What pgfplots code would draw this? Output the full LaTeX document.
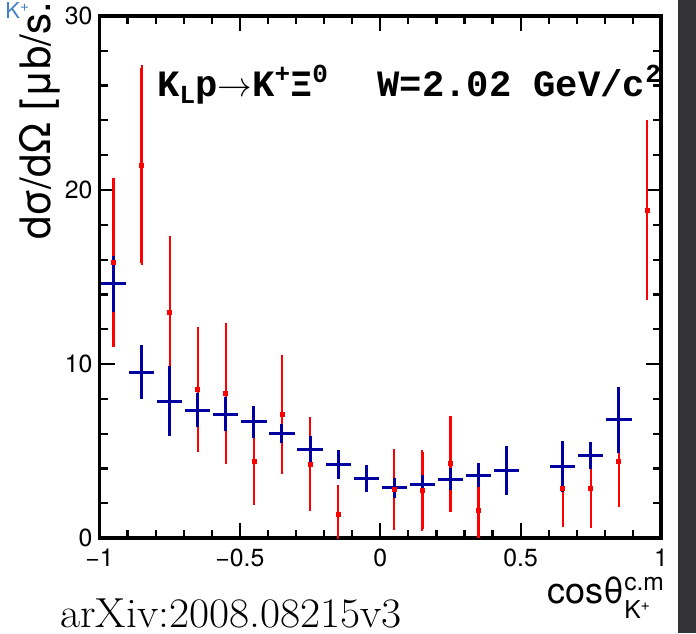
\documentclass[border=0pt]{standalone}
\usepackage{pgfplots}
\pgfplotsset{compat=1.18}
\usepackage{pgfplotstable}
\usepackage{fontspec}
\setmainfont{TeX Gyre Heros}
\newfontfamily\cour{Liberation Mono}
\definecolor{rootblue}{RGB}{0,0,160}
\definecolor{rootred}{RGB}{255,0,0}
\definecolor{stripgray}{RGB}{51,51,53}
\definecolor{fragblue}{RGB}{70,130,195}

\pgfplotstableread{
x y e
-0.95 15.85 4.70
-0.85 21.43 5.60
-0.75 12.96 4.27
-0.65 8.54 3.46
-0.55 8.29 3.90
-0.45 4.40 2.34
-0.35 7.10 3.27
-0.25 4.25 2.55
-0.15 1.37 1.50
0.05 2.80 2.18
0.15 2.73 2.19
0.25 4.27 2.60
0.35 1.58 1.42
0.65 2.86 2.07
0.75 2.87 2.15
0.85 4.39 2.43
0.95 18.83 5.02
}\reddata

\pgfplotstableread{
x y ex ey
-0.95 14.60 0.045 1.60
-0.85 9.54 0.045 1.57
-0.75 7.87 0.045 2.00
-0.65 7.35 0.045 0.96
-0.55 7.12 0.045 0.96
-0.45 6.67 0.045 0.92
-0.35 6.02 0.045 0.56
-0.25 5.08 0.045 0.80
-0.15 4.21 0.045 0.84
-0.05 3.42 0.045 0.77
0.05 2.89 0.045 0.58
0.15 3.10 0.045 0.54
0.25 3.39 0.045 0.65
0.35 3.62 0.045 0.70
0.45 3.88 0.045 1.43
0.65 4.10 0.045 1.46
0.75 4.73 0.045 0.77
0.85 6.79 0.045 1.89
}\bluedata

\begin{document}
\begin{tikzpicture}[x=1pt,y=1pt]
\path[use as bounding box] (0,0) rectangle (348,316.5);
\fill[stripgray] (339,0) rectangle (348,316.5);
\begin{axis}[
  at={(49.75pt,47.5pt)}, anchor=south west, scale only axis,
  width=280.75pt, height=261pt,
  xmin=-1, xmax=1, ymin=0, ymax=30,
  xtick={-1,-0.5,0,0.5,1}, xticklabels={−1,−0.5,0,0.5,1},
  ytick={0,10,20,30}, yticklabels={0,10,20,30},
  minor x tick num=4, minor y tick num=4,
  tick align=inside, major tick length=7.5pt, minor tick length=4pt,
  every tick/.append style={black, line width=1.1pt},
  axis line style={line width=1.6pt},
  ticklabel style={font=\fontsize{12.4}{14}\selectfont},
  xticklabel style={yshift=-2pt},
]
\addplot[rootred, only marks, mark=square*, mark size=1pt,
  error bars/.cd, y dir=both, y explicit, error mark=-,
  error bar style={line width=1.15pt, rootred},
  error mark options={rootred, mark size=1.3pt, line width=1.1pt}]
  table[x=x, y=y, y error=e] {\reddata};
\addplot[draw=none, mark=none,
  error bars/.cd, x dir=both, x explicit, y dir=both, y explicit, error mark=none,
  error bar style={draw=rootblue, line width=1.5pt}]
  table[x=x, y=y, x error=ex, y error=ey] {\bluedata};
\addplot[rootred, only marks, mark=square*, mark size=1pt]
  table[x=x, y=y] {\reddata};
\end{axis}
\node[anchor=base west, inner sep=0, font=\fontsize{18.6}{20}\selectfont\cour\bfseries] at (78.5,268)
  {K\raisebox{-0.35ex}{\fontsize{13}{13}\selectfont L}p$\rightarrow$K\raisebox{0.75ex}{\fontsize{13}{13}\selectfont +}Ξ\raisebox{0.75ex}{\fontsize{13}{13}\selectfont 0}};
\node[anchor=base west, inner sep=0, font=\fontsize{18.6}{20}\selectfont\cour\bfseries] at (188.5,268)
  {W=2.02 GeV/c\raisebox{0.75ex}{\fontsize{13}{13}\selectfont 2}};
\node[rotate=90, anchor=base west, inner sep=0, font=\fontsize{21}{24}\selectfont] at (25,196.5)
  {dσ/dΩ [μb/s.r.]};
\node[anchor=base west, inner sep=0, font=\fontsize{18}{22}\selectfont] at (273.5,15)
  {cosθ\rlap{\raisebox{6.5pt}{\fontsize{12.3}{13}\selectfont c.m}}\raisebox{-7.5pt}{\fontsize{12.3}{13}\selectfont K\raisebox{0.55ex}{\fontsize{8}{8}\selectfont +}}};
\node[anchor=base west, inner sep=0, xscale=1.04, font=\fontfamily{lmr}\fontsize{21}{24}\selectfont] at (30,3)
  {arXiv:2008.08215v3};
\node[anchor=base west, inner sep=0, text=fragblue, font=\fontsize{11}{12}\selectfont] at (2.5,307)
  {K\textsuperscript{+}};
\end{tikzpicture}
\end{document}
